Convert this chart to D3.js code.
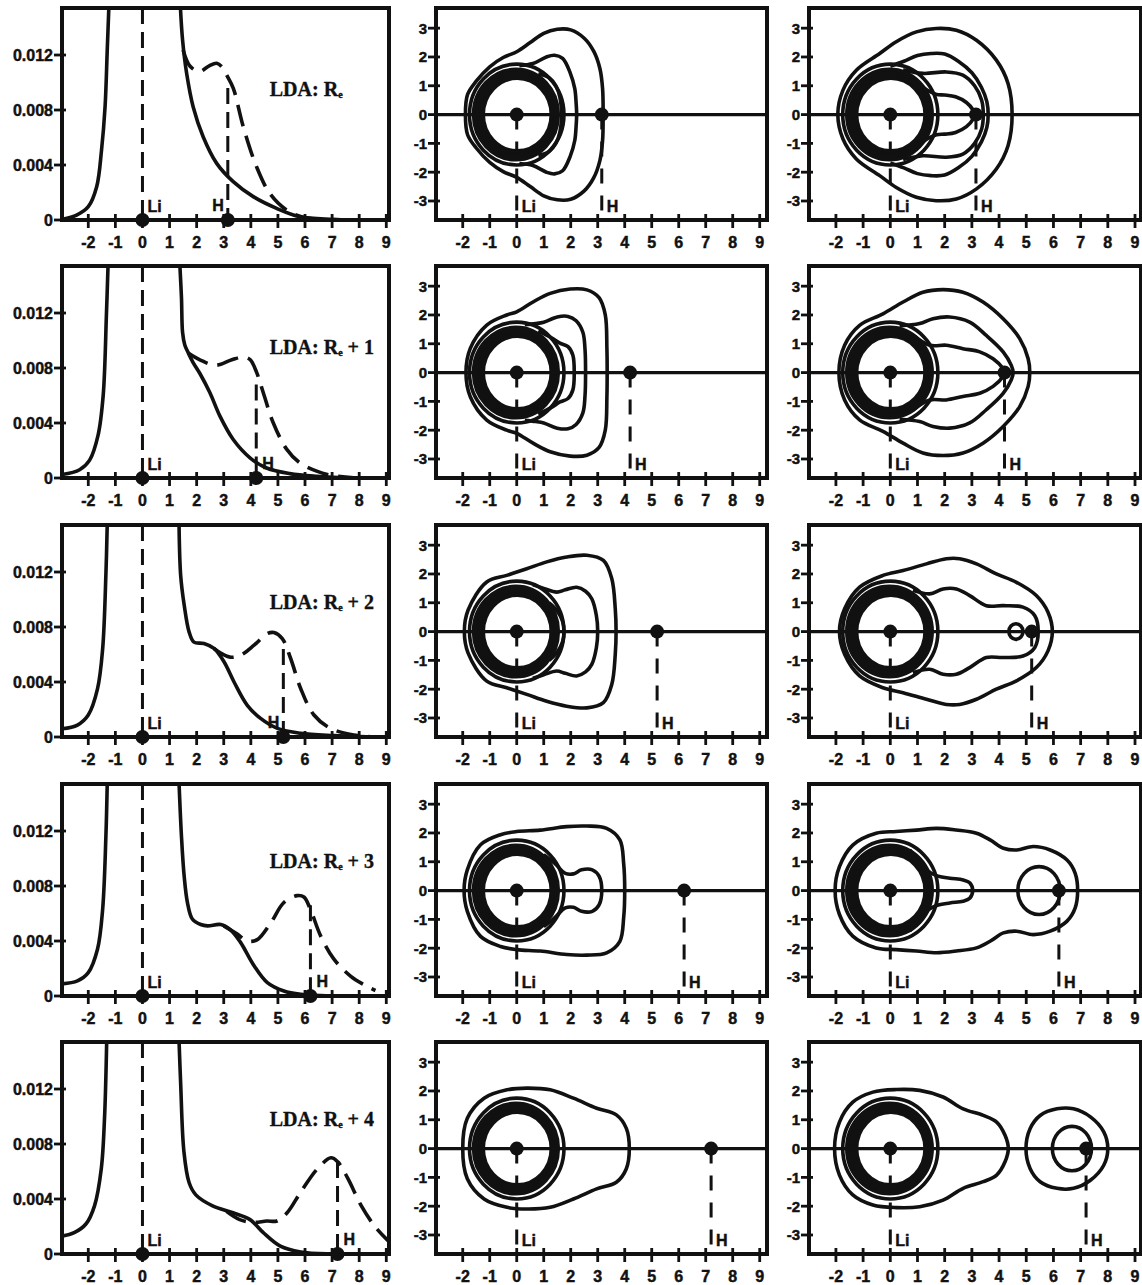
<!DOCTYPE html>
<html>
<head>
<meta charset="utf-8">
<script src="https://cdn.jsdelivr.net/npm/d3@7"></script>
<style>
  body { margin: 0; background: #fff; }
  svg { display: block; }
  .lbl { font-family: "Liberation Sans", Arial, sans-serif; font-weight: bold; fill: #111; stroke: #111; stroke-width: 0.45px; }
  .lda { font-family: "Liberation Serif", "Times New Roman", serif; font-weight: bold; fill: #111; stroke: #111; stroke-width: 0.35px; }
</style>
</head>
<body>
<svg id="fig" width="1142" height="1285"></svg>
<script>
// ---------- axis ticks ----------
const xTickValues = [-2, -1, 0, 1, 2, 3, 4, 5, 6, 7, 8, 9];
const densityTickValues = [0, 0.004, 0.008, 0.012];
const densityTickLabels = ["0", "0.004", "0.008", "0.012"];
const planeTickValues = [3, 2, 1, 0, -1, -2, -3];

// ---------- per-row settings (LDA: Re, Re+1 ... Re+4) ----------
const rowSuffix = ["", " + 1", " + 2", " + 3", " + 4"];
const hPositions = [3.15, 4.2, 5.2, 6.2, 7.2];
const hLineTop = [0.0096, 0.0068, 0.0064, 0.0066, 0.0067];
const hLabelLeft = [true, false, true, false, false];

// ---------- density along the Li–H axis: solid (left of Li) ----------
const solidLeft = [
  [[-2.95,0.00005],[-2.43,0.00036],[-2.0,0.00097],[-1.69,0.00242],[-1.51,0.0051],[-1.38,0.00824],[-1.30,0.01236],[-1.24,0.0155]],
  [[-2.97,0.00025],[-2.32,0.0006],[-1.95,0.0013],[-1.64,0.0031],[-1.45,0.006],[-1.33,0.0119],[-1.27,0.0155]],
  [[-2.97,0.0006],[-2.4,0.00087],[-2.0,0.0016],[-1.66,0.0035],[-1.47,0.0064],[-1.35,0.0118],[-1.30,0.0155]],
  [[-2.97,0.00088],[-2.4,0.0011],[-2.0,0.0017],[-1.66,0.0034],[-1.47,0.0063],[-1.35,0.0116],[-1.30,0.0155]],
  [[-2.97,0.0013],[-2.52,0.00155],[-2.08,0.0022],[-1.77,0.0035],[-1.52,0.0062],[-1.4,0.0099],[-1.32,0.0155]]
];
// solid (right of Li)
const solidRight = [
  [[1.40,0.0155],[1.48,0.0131],[1.63,0.01067],[1.87,0.00824],[2.24,0.00606],[2.74,0.00412],[3.35,0.00279],[4.09,0.0017],[4.95,0.00085],[5.81,0.00024],[7.03,0.00005],[7.6,0],[9.1,0]],
  [[1.38,0.0155],[1.44,0.0131],[1.48,0.0106],[1.56,0.0097],[1.69,0.0091],[1.87,0.0084],[2.12,0.0076],[2.49,0.0062],[2.86,0.0045],[3.35,0.0028],[3.97,0.00147],[4.58,0.00073],[5.44,0.00032],[6.43,0.00012],[7.66,0],[9.1,0]],
  [[1.35,0.0155],[1.41,0.01176],[1.54,0.0096],[1.72,0.00765],[1.9,0.0069],[2.27,0.0068],[2.64,0.00644],[3.01,0.00547],[3.38,0.004],[3.87,0.0023],[4.36,0.00135],[4.98,0.00063],[5.84,0.00027],[7.06,0.0001],[8.5,0],[9.1,0]],
  [[1.35,0.0155],[1.44,0.0116],[1.54,0.0087],[1.66,0.0068],[1.84,0.0056],[2.15,0.0052],[2.4,0.0051],[2.89,0.0052],[3.26,0.0048],[3.62,0.0039],[4.12,0.0022],[4.61,0.00097],[5.22,0.00036],[5.84,0.00012],[7,0],[9.1,0]],
  [[1.35,0.0155],[1.41,0.0124],[1.53,0.00745],[1.72,0.0052],[1.97,0.0043],[2.59,0.0035],[3.34,0.003],[3.97,0.0025],[4.46,0.00155],[5.09,0.00057],[5.84,0.00015],[7,0],[9.1,0]]
];
// dashed curve
const dashedCurve = [
  [[1.5,0.01236],[1.75,0.0112],[2.1,0.0108],[2.45,0.0112],[2.74,0.0114],[2.95,0.0111],[3.12,0.0105],[3.35,0.0096],[3.72,0.00679],[4.21,0.00388],[4.70,0.00194],[5.32,0.00073],[5.93,0.0002],[6.6,0.00004]],
  [[1.69,0.0091],[2.12,0.0086],[2.7,0.0082],[3.3,0.0086],[3.75,0.0088],[3.98,0.0086],[4.21,0.0077],[4.46,0.0062],[4.83,0.004],[5.32,0.0021],[5.81,0.0011],[6.43,0.0005],[7.04,0.00017],[7.8,0.00002]],
  [[2.64,0.00644],[2.89,0.0061],[3.26,0.0058],[3.62,0.00595],[4.12,0.00668],[4.61,0.00752],[4.85,0.0076],[5.16,0.00716],[5.47,0.00571],[5.84,0.00353],[6.33,0.0016],[6.94,0.00063],[7.8,0.00015],[8.5,0.00002]],
  [[3.0,0.0051],[3.5,0.0045],[3.87,0.004],[4.24,0.0041],[4.73,0.0053],[5.22,0.0068],[5.71,0.0073],[5.96,0.0072],[6.2,0.0063],[6.57,0.0044],[7.06,0.0027],[7.68,0.00145],[8.29,0.0007],[8.6,0.0004]],
  [[3.1,0.0031],[3.59,0.0025],[4.09,0.0023],[4.59,0.0024],[4.96,0.0024],[5.34,0.003],[5.84,0.0045],[6.46,0.0062],[6.96,0.007],[7.21,0.0067],[7.58,0.0055],[8.08,0.0035],[8.58,0.002],[9.1,0.0009]]
];
const ldaLabelY = [0.0090, 0.0090, 0.0093, 0.0093, 0.0093];
const ldaLabelX = 4.7;

// ---------- contour maps: the dense shell around Li (shared) ----------
const liShell = [
  {cx: 0.02, r: 1.26}, {cx: 0.02, r: 1.32}, {cx: 0.01, r: 1.38},
  {cx: 0.0, r: 1.44}, {cx: -0.02, r: 1.5}, {cx: -0.03, r: 1.57}
];
const liHalo = {cx: 0.0, r: 1.75};

// middle column: upper half of the outermost contour (left crossing -> right crossing)
const midOuter = [
  [[-1.9,0],[-1.82,0.7],[-1.5,1.16],[-1,1.66],[-0.5,1.98],[0,2.18],[0.5,2.5],[1,2.82],[1.5,2.96],[2,2.94],[2.5,2.65],[2.85,2.2],[3.08,1.6],[3.18,0.9],[3.2,0]],
  [[-1.88,0],[-1.72,0.84],[-1.11,1.65],[-0.37,2.0],[0,2.11],[0.62,2.46],[1.24,2.75],[1.98,2.9],[2.6,2.87],[3.05,2.6],[3.28,2.0],[3.34,0.84],[3.35,0]],
  [[-1.94,0],[-1.8,0.75],[-1.11,1.72],[-0.37,1.95],[0.37,2.18],[1.11,2.42],[1.85,2.59],[2.6,2.65],[3.21,2.47],[3.52,1.84],[3.65,0.79],[3.68,0]],
  [[-1.95,0],[-1.83,0.72],[-1.34,1.59],[-0.6,1.94],[0,2.05],[0.87,2.1],[1.85,2.22],[2.59,2.24],[3.33,2.16],[3.82,1.76],[3.96,0.95],[4.0,0]],
  [[-2.0,0],[-1.83,1.05],[-1.21,1.75],[-0.36,2.04],[0.38,2.1],[1.24,2.04],[2.1,1.75],[2.96,1.4],[3.69,1.17],[4.06,0.7],[4.17,0]]
];
// middle column: inner lobes leaving the Li shell (upper half, shell -> axis)
const midLobes = [
  [
    [[0.1,1.7],[0.6,1.77],[1.1,2.0],[1.4,2.06],[1.7,1.95],[1.98,1.45],[2.15,0.9],[2.2,0.4],[2.22,0]],
    [[0.8,1.42],[1.2,1.28],[1.45,1.0],[1.6,0.6],[1.66,0]]
  ],
  [
    [[0.3,1.66],[0.7,1.7],[1.0,1.75],[1.5,1.93],[1.9,1.95],[2.2,1.8],[2.45,1.4],[2.53,0.8],[2.55,0]],
    [[0.8,1.45],[1.3,1.2],[1.6,1.02],[1.9,0.9],[2.08,0.6],[2.13,0]]
  ],
  [
    [[0.6,1.62],[1.0,1.5],[1.48,1.37],[1.8,1.45],[2.22,1.54],[2.55,1.4],[2.78,1.14],[2.95,0.56],[3.0,0]],
    [[1.2,1.0],[1.5,0.72],[1.7,0.35],[1.75,0]]
  ],
  [
    [[1.0,1.25],[1.4,0.95],[1.8,0.6],[2.1,0.58],[2.4,0.72],[2.8,0.72],[3.05,0.5],[3.15,0]]
  ],
  []
];

// right column
const rightOuter = [
  [[-1.93,0],[-1.74,0.85],[-1.25,1.54],[-0.39,2.12],[0.22,2.53],[0.96,2.87],[1.69,2.99],[2.43,2.93],[3.17,2.58],[3.9,1.89],[4.33,1.08],[4.48,0]],
  [[-1.89,0],[-1.68,0.95],[-1.13,1.64],[-0.27,2.04],[0.47,2.45],[1.2,2.79],[1.94,2.88],[2.67,2.79],[3.41,2.45],[4.15,1.87],[4.76,1.18],[5.07,0.48],[5.13,0]],
  [[-1.87,0],[-1.68,0.79],[-1.13,1.54],[-0.27,1.95],[0.47,2.12],[1.33,2.35],[2.06,2.53],[2.55,2.53],[3.17,2.35],[3.9,2.0],[4.64,1.71],[5.37,1.25],[5.8,0.67],[5.96,0]],
  [[-2.03,0],[-1.87,0.83],[-1.38,1.58],[-0.52,1.99],[0.22,2.05],[0.96,2.1],[1.7,2.16],[2.43,2.1],[3.17,1.99],[3.67,1.76],[4.16,1.47],[4.65,1.41],[5.26,1.53],[5.88,1.41],[6.5,1.06],[6.8,0.6],[6.89,0]],
  [[-2.05,0],[-1.87,0.92],[-1.38,1.61],[-0.64,1.96],[0.22,2.05],[1.08,2.02],[1.94,1.79],[2.68,1.38],[3.42,1.15],[3.91,0.92],[4.22,0.46],[4.34,0]]
];
const rightLobes = [
  [
    [[0.0,1.68],[0.5,1.85],[1,2.05],[1.5,2.12],[2,2.1],[2.5,1.85],[3,1.45],[3.35,0.95],[3.55,0.45],[3.6,0]],
    [[0.47,1.56],[1.2,1.43],[2.06,1.48],[2.67,1.37],[3.1,1.0],[3.36,0.5],[3.42,0]],
    [[1.0,1.12],[1.35,0.85],[1.7,0.7],[2.0,0.68],[2.4,0.62],[2.8,0.42],[3.05,0.15],[3.1,0]]
  ],
  [
    [[0.34,1.62],[1.08,1.7],[1.57,1.87],[2.18,1.93],[2.92,1.75],[3.53,1.29],[4.15,0.72],[4.45,0.25],[4.52,0]],
    [[0.83,1.3],[1.45,0.95],[2.06,0.95],[2.67,0.83],[3.29,0.72],[3.78,0.48],[4.15,0.14],[4.21,0]]
  ],
  [
    [[0.83,1.43],[1.45,1.31],[1.94,1.48],[2.43,1.48],[2.92,1.25],[3.53,0.9],[4.15,0.9],[4.88,0.85],[5.31,0.56],[5.44,0]]
  ],
  [
    [[0.71,1.41],[1.0,1.08],[1.33,0.72],[1.7,0.52],[2.19,0.43],[2.68,0.37],[2.92,0.27],[3.03,0]]
  ],
  []
];
// right column: closed contours that sit around H only (upper half)
const rightHOuter = [null, null, null, null,
  [[4.99,0],[5.14,0.69],[5.51,1.15],[6.13,1.38],[6.74,1.38],[7.36,1.1],[7.85,0.58],[8.0,0]]
];
// right column: small elliptic contours near H
const rightHLoops = [[], [], [{cx: 4.62, rx: 0.26, ry: 0.27}], [{cx: 5.47, rx: 0.78, ry: 0.83}], [{cx: 6.68, rx: 0.72, ry: 0.77}]];

// ---------- layout ----------
const rowBottoms = [220, 478, 737, 996, 1254];
const panelHeight = 212;
const columns = {
  density: {x0: 62, x1: 389, domain: [-2.97, 9.1]},
  middle: {x0: 436, x1: 767, domain: [-2.99, 9.27]},
  right: {x0: 809, x1: 1141, domain: [-2.99, 9.22]}
};
const densityDomain = [0, 0.01542];
const planeDomain = [-3.66, 3.7];

const svg = d3.select("#fig");
const INK = "#111";
const LW = 3.6;
let clipId = 0;

function frameAndTicks(g, x, y, x0, x1, top, bottom, yTicks, yLabels, yFont) {
  g.append("rect").attr("x", x0).attr("y", top).attr("width", x1 - x0).attr("height", bottom - top)
    .attr("fill", "none").attr("stroke", INK).attr("stroke-width", 4);
  xTickValues.forEach(v => {
    g.append("line").attr("x1", x(v)).attr("x2", x(v)).attr("y1", bottom - 6).attr("y2", bottom + 8)
      .attr("stroke", INK).attr("stroke-width", 2.8);
    g.append("text").attr("class", "lbl").attr("font-size", 16).attr("text-anchor", "middle")
      .attr("x", x(v)).attr("y", bottom + 28).text(v);
  });
  yTicks.forEach((v, i) => {
    g.append("line").attr("x1", x0 - 8).attr("x2", x0 + 4).attr("y1", y(v)).attr("y2", y(v))
      .attr("stroke", INK).attr("stroke-width", 2.8);
    g.append("text").attr("class", "lbl").attr("font-size", yFont).attr("text-anchor", "end")
      .attr("x", x0 - 9).attr("y", y(v) + yFont * 0.36).text(yLabels[i]);
  });
}

function addClip(x0, x1, top, bottom) {
  const id = "clip" + (clipId++);
  svg.append("clipPath").attr("id", id).append("rect")
    .attr("x", x0).attr("y", top).attr("width", x1 - x0).attr("height", bottom - top);
  return "url(#" + id + ")";
}

function drawDensity(row) {
  const c = columns.density;
  const bottom = rowBottoms[row], top = bottom - panelHeight;
  const x = d3.scaleLinear().domain(c.domain).range([c.x0, c.x1]);
  const y = d3.scaleLinear().domain(densityDomain).range([bottom, top]);
  const g = svg.append("g");
  const inner = g.append("g").attr("clip-path", addClip(c.x0, c.x1, top, bottom));
  const line = d3.line().x(d => x(d[0])).y(d => y(d[1])).curve(d3.curveCatmullRom.alpha(0.5));
  const H = hPositions[row];

  // Li position marker
  inner.append("line").attr("x1", x(0)).attr("x2", x(0)).attr("y1", top).attr("y2", bottom)
    .attr("stroke", INK).attr("stroke-width", 3).attr("stroke-dasharray", "16,8");
  // H position marker
  inner.append("line").attr("x1", x(H)).attr("x2", x(H)).attr("y1", y(hLineTop[row])).attr("y2", bottom)
    .attr("stroke", INK).attr("stroke-width", 3).attr("stroke-dasharray", "16,8");
  // dashed profile
  inner.append("path").attr("d", line(dashedCurve[row])).attr("fill", "none")
    .attr("stroke", INK).attr("stroke-width", LW).attr("stroke-dasharray", "22,10");
  // solid profile
  [solidLeft[row], solidRight[row]].forEach(seg => {
    inner.append("path").attr("d", line(seg)).attr("fill", "none")
      .attr("stroke", INK).attr("stroke-width", LW);
  });

  frameAndTicks(g, x, y, c.x0, c.x1, top, bottom, densityTickValues, densityTickLabels, 16);

  [0, H].forEach(v => g.append("circle").attr("cx", x(v)).attr("cy", y(0)).attr("r", 7).attr("fill", INK));
  g.append("text").attr("class", "lbl").attr("font-size", 16).attr("x", x(0) + 5).attr("y", bottom - 8).text("Li");
  g.append("text").attr("class", "lbl").attr("font-size", 16)
    .attr("text-anchor", hLabelLeft[row] ? "end" : "start")
    .attr("x", hLabelLeft[row] ? x(H) - 4 : x(H) + 6).attr("y", bottom - 9).text("H");

  const t = g.append("text").attr("class", "lda").attr("font-size", 20)
    .attr("x", x(ldaLabelX)).attr("y", y(ldaLabelY[row]));
  t.append("tspan").text("LDA: R");
  t.append("tspan").attr("font-size", 10).attr("dy", 2).text("e");
  if (rowSuffix[row]) t.append("tspan").attr("dy", -2).text(rowSuffix[row]);
}

function closedHalf(half) {
  const lower = half.slice(1, -1).reverse().map(([a, b]) => [a, -b]);
  return half.concat(lower);
}
function openHalf(half) {
  const lower = half.slice(0, -1).reverse().map(([a, b]) => [a, -b]);
  return half.concat(lower);
}

function drawPlane(row, col, outer, lobes, hOuter, hLoops) {
  const c = columns[col];
  const bottom = rowBottoms[row], top = bottom - panelHeight;
  const x = d3.scaleLinear().domain(c.domain).range([c.x0, c.x1]);
  const y = d3.scaleLinear().domain(planeDomain).range([bottom, top]);
  const g = svg.append("g");
  const inner = g.append("g").attr("clip-path", addClip(c.x0, c.x1, top, bottom));
  const H = hPositions[row];
  const closed = d3.line().x(d => x(d[0])).y(d => y(d[1])).curve(d3.curveCatmullRomClosed.alpha(0.5));
  const open = d3.line().x(d => x(d[0])).y(d => y(d[1])).curve(d3.curveCatmullRom.alpha(0.5));

  // marker lines below Li and H
  [0, H].forEach(v => inner.append("line").attr("x1", x(v)).attr("x2", x(v))
    .attr("y1", y(0)).attr("y2", bottom - 8)
    .attr("stroke", INK).attr("stroke-width", 3).attr("stroke-dasharray", "15,12"));

  const cg = inner.append("g").attr("fill", "none").attr("stroke", INK).attr("stroke-width", LW);
  cg.append("path").attr("d", closed(closedHalf(outer)));
  if (hOuter) cg.append("path").attr("d", closed(closedHalf(hOuter)));
  lobes.forEach(l => cg.append("path").attr("d", open(openHalf(l))));
  liShell.forEach(s => cg.append("ellipse").attr("cx", x(s.cx)).attr("cy", y(0))
    .attr("rx", x(s.r) - x(0)).attr("ry", y(0) - y(s.r)));
  cg.append("ellipse").attr("cx", x(liHalo.cx)).attr("cy", y(0))
    .attr("rx", x(liHalo.r) - x(0)).attr("ry", y(0) - y(liHalo.r));
  hLoops.forEach(s => cg.append("ellipse").attr("cx", x(s.cx)).attr("cy", y(0))
    .attr("rx", x(s.rx) - x(0)).attr("ry", y(0) - y(s.ry)));

  // molecular axis
  inner.append("line").attr("x1", c.x0).attr("x2", c.x1).attr("y1", y(0)).attr("y2", y(0))
    .attr("stroke", INK).attr("stroke-width", 3.4);

  frameAndTicks(g, x, y, c.x0, c.x1, top, bottom, planeTickValues, planeTickValues.map(String), 15);

  [0, H].forEach(v => g.append("circle").attr("cx", x(v)).attr("cy", y(0)).attr("r", 7).attr("fill", INK));
  g.append("text").attr("class", "lbl").attr("font-size", 16).attr("x", x(0) + 5).attr("y", bottom - 8).text("Li");
  g.append("text").attr("class", "lbl").attr("font-size", 16).attr("x", x(H) + 5).attr("y", bottom - 8).text("H");
}

for (let row = 0; row < 5; row++) {
  drawDensity(row);
  drawPlane(row, "middle", midOuter[row], midLobes[row], null, []);
  drawPlane(row, "right", rightOuter[row], rightLobes[row], rightHOuter[row], rightHLoops[row]);
}
</script>
</body>
</html>
